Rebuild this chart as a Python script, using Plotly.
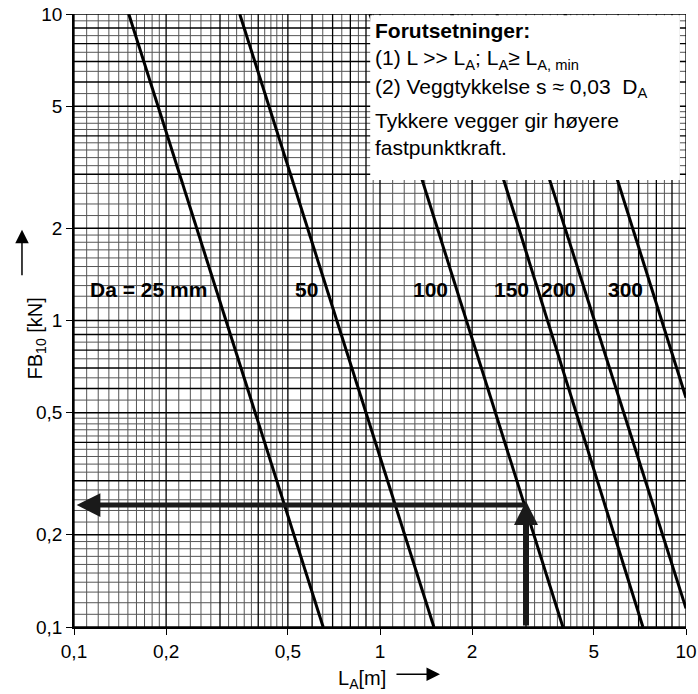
import numpy as np
import plotly.graph_objects as go

# ---------------- data ----------------
diameter_labels = ["Da = 25 mm", "50", "100", "150", "200", "300"]
# each line is straight on log-log paper: two points (L_A [m], FB10 [kN])
line_L = [[0.151, 0.652], [0.348, 1.50], [0.927, 3.96], [1.72, 7.23], [2.41, 10.0], [4.03, 10.0]]
line_FB = [[10.0, 0.1], [10.0, 0.1], [10.0, 0.1], [10.0, 0.1], [10.0, 0.115], [10.0, 0.56]]
label_FB = 1.26

tick_vals = [0.1, 0.2, 0.5, 1, 2, 5, 10]
tick_text = ["0,1", "0,2", "0,5", "1", "2", "5", "10"]

example_L = 3.0      # reading example: L_A = 3 m
example_FB = 0.25    # gives FB10 = 0.25 kN

# log-paper grid: (start, stop, step) inside one decade
grid_rules = [(1.0, 2.0, 0.1), (2.0, 5.0, 0.2), (5.0, 10.0, 0.5)]
decades = [0.1, 1.0]

FONT = "Liberation Sans, Arial, Helvetica, sans-serif"

# ---------------- grid values ----------------
strong, weak = [], []
for d in decades:
    for a, b, s in grid_rules:
        for v in np.arange(a, b + 1e-9, s):
            val = round(v * d, 6)
            if abs(v - round(v)) < 1e-9:
                strong.append(val)
            else:
                weak.append(val)
strong = sorted(set(strong + [10.0]))
weak = sorted(set(weak))


def vlines(vals):
    xs, ys = [], []
    for v in vals:
        xs += [v, v, None]
        ys += [0.1, 10, None]
    return xs, ys


def hlines(vals):
    xs, ys = [], []
    for v in vals:
        xs += [0.1, 10, None]
        ys += [v, v, None]
    return xs, ys


fig = go.Figure()
for vals, col, w in [(weak, "#555555", 1), (strong, "#000000", 1.3)]:
    x, y = vlines(vals)
    fig.add_trace(go.Scatter(x=x, y=y, mode="lines", line=dict(color=col, width=w),
                             hoverinfo="skip", showlegend=False))
    x, y = hlines(vals)
    fig.add_trace(go.Scatter(x=x, y=y, mode="lines", line=dict(color=col, width=w),
                             hoverinfo="skip", showlegend=False))

# ---------------- Da lines ----------------
for name, Ls, Fs in zip(diameter_labels, line_L, line_FB):
    fig.add_trace(go.Scatter(x=Ls, y=Fs, mode="lines", line=dict(color="black", width=3),
                             name=name, showlegend=False))
    lx = np.log10(Ls)
    ly = np.log10(Fs)
    t = (np.log10(label_FB) - ly[0]) / (ly[1] - ly[0])
    xl = lx[0] + t * (lx[1] - lx[0])
    fig.add_annotation(x=xl, y=np.log10(label_FB), xref="x", yref="y", text="<b>%s</b>" % name,
                       showarrow=False, xanchor="right", yanchor="middle", xshift=-7,
                       font=dict(family=FONT, size=21, color="black"))

# ---------------- reading example arrows ----------------
fig.add_annotation(x=np.log10(example_L), y=np.log10(example_FB * 1.03), xref="x", yref="y",
                   ax=np.log10(example_L), ay=np.log10(0.1), axref="x", ayref="y",
                   showarrow=True, arrowhead=2, arrowwidth=6, arrowsize=0.8,
                   arrowcolor="#1a1a1a", text="")
fig.add_annotation(x=np.log10(0.102), y=np.log10(example_FB), xref="x", yref="y",
                   ax=np.log10(example_L), ay=np.log10(example_FB), axref="x", ayref="y",
                   showarrow=True, arrowhead=2, arrowwidth=5, arrowsize=0.95,
                   arrowcolor="#1a1a1a", text="")

# ---------------- info box ----------------
fig.add_shape(type="rect", xref="paper", yref="paper", x0=0.484, x1=0.990, y0=0.729, y1=0.998,
              fillcolor="white", line=dict(width=0), layer="above")
box_blocks = [
    ("<b>Forutsetninger:</b><br>(1) L >> L<sub>A</sub>; L<sub>A</sub>≥ L<sub>A, min</sub>", 0.995, "top"),
    ("(2) Veggtykkelse s ≈ 0,03  D<sub>A</sub>", 0.880, "middle"),
    ("Tykkere vegger gir høyere<br>fastpunktkraft.", 0.848, "top"),
]
for txt, yy, ya in box_blocks:
    fig.add_annotation(x=0.488, y=yy, xref="paper", yref="paper", text=txt, showarrow=False,
                       xanchor="left", yanchor=ya, align="left",
                       font=dict(family=FONT, size=21, color="black"))

# ---------------- axis titles ----------------
fig.add_annotation(x=-0.085, y=0.4715, xref="paper", yref="paper", text="FB<sub>10</sub> [kN]",
                   textangle=-90, showarrow=False, font=dict(family=FONT, size=20, color="black"))
fig.add_annotation(x=-0.085, y=0.648, xref="paper", yref="paper", ax=0, ay=47, text="",
                   showarrow=True, arrowhead=2, arrowwidth=1.5, arrowsize=1.8, arrowcolor="black")
fig.add_annotation(x=0.428, y=-0.086, xref="paper", yref="paper", text="L<sub>A</sub>[m]",
                   xanchor="left", yanchor="middle", showarrow=False,
                   font=dict(family=FONT, size=20, color="black"))
fig.add_annotation(x=0.598, y=-0.077, xref="paper", yref="paper", ax=-45, ay=0, text="",
                   showarrow=True, arrowhead=2, arrowwidth=1.5, arrowsize=1.8, arrowcolor="black")

axis_common = dict(type="log", range=[-1, 1], tickvals=tick_vals, ticktext=tick_text,
                   showgrid=False, zeroline=False, showline=True, linecolor="black", linewidth=1.5,
                   ticks="outside", ticklen=6, tickcolor="black", tickwidth=1.2, automargin=False,
                   tickfont=dict(family=FONT, size=19, color="black"))
fig.update_layout(
    width=698, height=694,
    margin=dict(l=74, r=12, t=14, b=67),
    plot_bgcolor="white", paper_bgcolor="white",
    xaxis=axis_common, yaxis=axis_common,
    showlegend=False,
)

fig.write_html("out.html", config={"displayModeBar": False},
               post_script="document.body.style.margin='0px';document.body.style.overflow='hidden';")
